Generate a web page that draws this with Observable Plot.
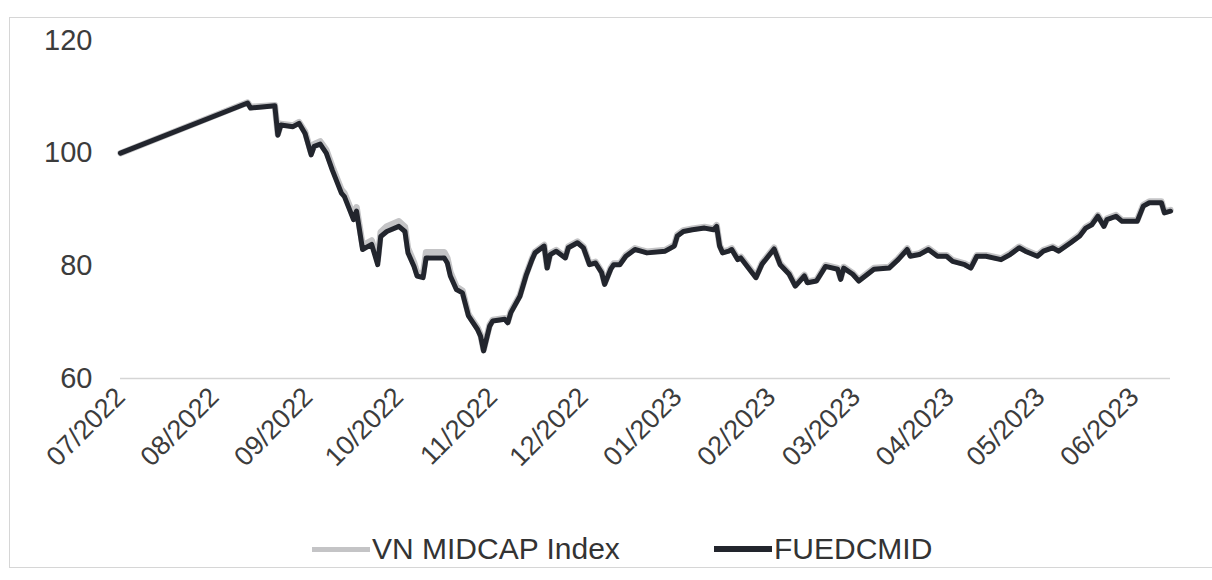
<!DOCTYPE html>
<html>
<head>
<meta charset="utf-8">
<script src="https://cdn.jsdelivr.net/npm/d3@7"></script>
<script src="https://cdn.jsdelivr.net/npm/@observablehq/plot@0.6"></script>
<style>
  html, body { margin: 0; padding: 0; background: #ffffff; }
  body { width: 1212px; height: 580px; position: relative; overflow: hidden;
         font-family: Arial, "Liberation Sans", sans-serif; }
  #frame { position: absolute; left: 9px; top: 17px; width: 1220px; height: 551px;
           border: 1px solid #d6d6d6; box-sizing: border-box; }
  #chart { position: absolute; left: 0; top: 0; }
  #legend { position: absolute; left: 0; top: 531px; width: 1212px; height: 36px; }
  .item { position: absolute; top: 0; height: 36px; display: flex; align-items: center;
          font-size: 30px; color: #333333; white-space: nowrap; }
  .sw { display: inline-block; width: 58px; height: 5px; margin-right: 2px; }
</style>
</head>
<body>
<div id="frame"></div>
<div id="chart"></div>
<div id="legend">
  <div class="item" style="left:312px"><span class="sw" style="background:#c4c4c6"></span>VN MIDCAP Index</div>
  <div class="item" style="left:714px"><span class="sw" style="background:#22252d;height:6px"></span>FUEDCMID</div>
</div>
<script>
// ---- data ----
const dates = [
  "2022-07-01","2022-08-12","2022-08-13","2022-08-21","2022-08-22","2022-08-23","2022-08-27","2022-08-29",
  "2022-08-31","2022-09-02","2022-09-03","2022-09-05","2022-09-07","2022-09-09","2022-09-12","2022-09-13",
  "2022-09-16","2022-09-17","2022-09-19","2022-09-22","2022-09-24","2022-09-25","2022-09-27","2022-10-01",
  "2022-10-03","2022-10-04","2022-10-06","2022-10-07","2022-10-09","2022-10-10","2022-10-16","2022-10-17",
  "2022-10-18","2022-10-20","2022-10-22","2022-10-24","2022-10-27","2022-10-28","2022-10-29","2022-10-31",
  "2022-11-01","2022-11-05","2022-11-06","2022-11-07","2022-11-10","2022-11-12","2022-11-14","2022-11-15",
  "2022-11-18","2022-11-19","2022-11-20","2022-11-22","2022-11-25","2022-11-26","2022-11-29","2022-12-01",
  "2022-12-03","2022-12-05","2022-12-07","2022-12-08","2022-12-10","2022-12-11","2022-12-13","2022-12-15",
  "2022-12-18","2022-12-20","2022-12-22","2022-12-28","2022-12-31","2023-01-01","2023-01-03","2023-01-06",
  "2023-01-10","2023-01-13","2023-01-14","2023-01-15","2023-01-16","2023-01-18","2023-01-19","2023-01-21",
  "2023-01-22","2023-01-27","2023-01-29","2023-02-02","2023-02-04","2023-02-07","2023-02-09","2023-02-12",
  "2023-02-13","2023-02-16","2023-02-19","2023-02-23","2023-02-24","2023-02-25","2023-02-28","2023-03-02",
  "2023-03-07","2023-03-12","2023-03-15","2023-03-18","2023-03-19","2023-03-22","2023-03-25","2023-03-28",
  "2023-03-31","2023-04-02","2023-04-06","2023-04-08","2023-04-10","2023-04-13","2023-04-18","2023-04-21",
  "2023-04-24","2023-04-26","2023-04-30","2023-05-02","2023-05-05","2023-05-07","2023-05-11","2023-05-14",
  "2023-05-16","2023-05-18","2023-05-20","2023-05-22","2023-05-23","2023-05-26","2023-05-28","2023-06-02",
  "2023-06-04","2023-06-06","2023-06-10","2023-06-11","2023-06-13"
];
const fuedcmid = [
  100.0,108.9,108.0,108.4,103.2,105.0,104.7,105.3,
  103.5,99.7,101.2,101.6,100.0,97.0,92.9,92.3,
  88.2,89.7,82.9,83.8,80.2,85.2,86.1,87.0,
  86.1,82.3,79.9,78.2,77.9,81.4,81.4,80.5,
  78.2,75.8,75.2,71.1,68.7,67.5,64.9,69.3,
  70.2,70.5,69.9,71.7,74.6,78.2,81.1,82.3,
  83.5,79.6,82.0,82.6,81.4,83.2,84.1,83.2,
  80.2,80.5,78.8,76.7,79.4,80.2,80.2,81.7,
  82.9,82.6,82.3,82.6,83.5,85.3,86.1,86.4,
  86.7,86.4,87.0,83.5,82.3,82.6,82.9,81.1,
  81.4,77.9,80.3,83.0,80.2,78.5,76.4,78.2,
  77.0,77.3,79.9,79.4,77.6,79.6,78.5,77.3,
  79.4,79.6,81.1,82.9,81.7,82.0,82.9,81.7,
  81.7,80.8,80.2,79.6,81.7,81.7,81.1,82.0,
  83.2,82.6,81.7,82.6,83.2,82.6,84.1,85.3,
  86.7,87.3,88.8,87.0,88.2,88.8,87.9,87.9,
  90.6,91.2,91.2,89.4,89.7
];
const vnMidcap = [
  100.0,109.0,108.2,108.5,103.4,105.2,104.9,105.5,
  103.8,100.1,101.6,102.1,100.6,97.6,93.5,92.9,
  88.9,90.4,83.6,84.5,81.0,86.0,87.0,87.9,
  86.9,83.1,80.6,78.8,78.5,82.4,82.4,81.4,
  78.9,76.3,75.6,71.4,69.0,67.8,65.1,69.5,
  70.4,70.7,70.1,71.9,74.8,78.4,81.3,82.5,
  83.7,79.8,82.2,82.8,81.6,83.4,84.3,83.4,
  80.4,80.7,79.0,76.9,79.6,80.4,80.4,81.9,
  83.1,82.8,82.5,82.8,83.7,85.5,86.3,86.6,
  86.9,86.6,87.2,83.7,82.5,82.8,83.1,81.3,
  81.6,78.1,80.5,83.2,80.4,78.7,76.6,78.4,
  77.2,77.5,80.1,79.6,77.8,79.8,78.7,77.5,
  79.6,79.8,81.3,83.1,81.9,82.2,83.1,81.9,
  81.9,81.0,80.4,79.8,81.9,81.9,81.3,82.2,
  83.4,82.8,81.9,82.8,83.4,82.8,84.3,85.5,
  86.9,87.5,89.0,87.2,88.4,89.0,88.1,88.1,
  90.8,91.4,91.4,89.6,89.9
];
const monthTicks = ["2022-07-01","2022-08-01","2022-09-01","2022-10-01","2022-11-01","2022-12-01",
                    "2023-01-01","2023-02-01","2023-03-01","2023-04-01","2023-05-01","2023-06-01"];
const yTicks = [60, 80, 100, 120];

// ---- build table ----
const rows = dates.map((d, i) => ({date: new Date(d), fund: fuedcmid[i], index: vnMidcap[i]}));

const chart = Plot.plot({
  width: 1212,
  height: 520,
  marginLeft: 120,
  marginRight: 42,
  marginTop: 40,
  marginBottom: 142,
  style: {fontFamily: "Arial, 'Liberation Sans', sans-serif", fontSize: "29px", color: "#3c3c3c", background: "transparent", overflow: "visible"},
  x: {type: "utc", domain: [new Date("2022-07-01"), new Date("2023-06-13")], label: null},
  y: {domain: [60, 120], label: null},
  marks: [
    Plot.axisY({ticks: yTicks, tickSize: 0, tickPadding: 28, label: null, fontSize: 29}),
    Plot.axisX({ticks: monthTicks.map(d => new Date(d)), tickFormat: d3.utcFormat("%m/%Y"),
                tickRotate: -45, tickSize: 0, tickPadding: 14, label: null, fontSize: 27}),
    Plot.ruleY([60], {stroke: "#d5d5d5", strokeWidth: 1.5}),
    Plot.line(rows, {x: "date", y: "index", stroke: "#c4c4c6", strokeWidth: 6.5}),
    Plot.line(rows, {x: "date", y: "fund", stroke: "#22252d", strokeWidth: 5})
  ]
});
document.getElementById("chart").appendChild(chart);
</script>
</body>
</html>
